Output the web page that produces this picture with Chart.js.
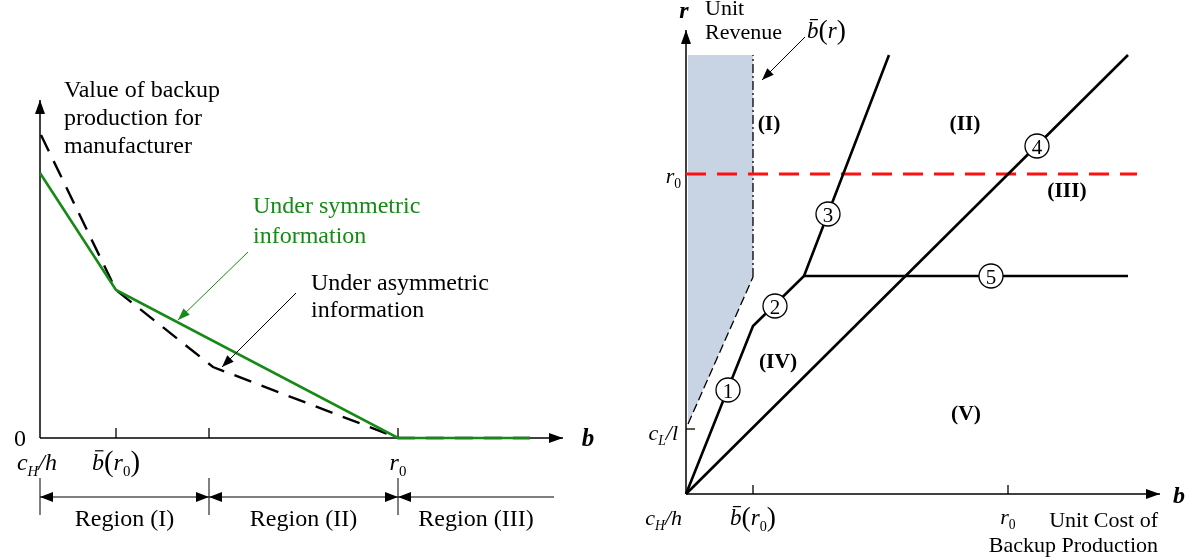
<!DOCTYPE html>
<html>
<head>
<meta charset="utf-8">
<script src="https://cdn.jsdelivr.net/npm/chart.js@4.4.1/dist/chart.umd.min.js"></script>
<style>
  html, body { margin: 0; padding: 0; background: #fff; }
  #wrap { position: relative; width: 1194px; height: 560px; }
  canvas { position: absolute; top: 0; }
  #left { left: 0; }
  #right { left: 600px; }
</style>
</head>
<body>
<div id="wrap">
  <canvas id="left" width="600" height="560"></canvas>
  <canvas id="right" width="594" height="560"></canvas>
</div>
<script>
// left panel: value of backup production vs b (schematic units)
const symX = [0, 7.6, 35.8, 49];
const symY = [26.5, 14.8, 0, 0];
const asymX = [0.1, 7.6, 17.3, 35.8, 49];
const asymY = [30.3, 14.8, 7.1, 0, 0];
const leftTicks = [7.6, 16.9, 35.8];
const regionBounds = [0, 16.9, 35.8, 51.4];
const regionLabels = ['Region (I)', 'Region (II)', 'Region (III)'];

// right panel: unit revenue r vs unit cost b
const curveX = [0, 6.7, 11.8, 20.3];
const curveY = [0, 16.8, 21.8, 43.9];
const diagX = [0, 44.2];
const diagY = [0, 43.9];
const flatX = [11.8, 44.2];
const flatY = [21.8, 21.8];
const r0Level = 32.0;
const r0LineX = [0, 45.1];
const bbarSlopeX = [0.2, 6.7];
const bbarSlopeY = [7.0, 21.7];
const bbarVertX = [6.7, 6.7];
const bbarVertY = [21.7, 43.9];
const shadeTop = 43.9;
const markerX = [4.2, 8.9, 14.2, 35.1, 30.5];
const markerY = [10.4, 18.8, 28.0, 34.8, 21.8];
const markerLabels = ['1', '2', '3', '4', '5'];
const rightTicksX = [6.7, 32.2];
const cLLevel = 6.5;

const SERIF = '"Liberation Serif", "Times New Roman", serif';
const font = (size, it, bold) => `${it ? 'italic ' : ''}${bold ? 'bold ' : ''}${size}px ${SERIF}`;
const pts = (xs, ys) => xs.map((x, i) => ({ x, y: ys[i] }));

function head(ctx, x1, y1, x2, y2, len, half) {
  const a = Math.atan2(y2 - y1, x2 - x1);
  ctx.beginPath();
  ctx.moveTo(x2, y2);
  ctx.lineTo(x2 - len * Math.cos(a) + half * Math.sin(a), y2 - len * Math.sin(a) - half * Math.cos(a));
  ctx.lineTo(x2 - len * Math.cos(a) - half * Math.sin(a), y2 - len * Math.sin(a) + half * Math.cos(a));
  ctx.closePath();
  ctx.fill();
}

function arrow(ctx, x1, y1, x2, y2, { color = '#000', width = 1, len = 12, half = 4.5, both = false } = {}) {
  ctx.strokeStyle = color;
  ctx.fillStyle = color;
  ctx.lineWidth = width;
  ctx.setLineDash([]);
  ctx.beginPath();
  ctx.moveTo(x1, y1);
  ctx.lineTo(x2, y2);
  ctx.stroke();
  head(ctx, x1, y1, x2, y2, len, half);
  if (both) head(ctx, x2, y2, x1, y1, len, half);
}

function line(ctx, x1, y1, x2, y2, width = 1.5) {
  ctx.strokeStyle = '#000';
  ctx.lineWidth = width;
  ctx.setLineDash([]);
  ctx.beginPath();
  ctx.moveTo(x1, y1);
  ctx.lineTo(x2, y2);
  ctx.stroke();
}

function text(ctx, str, x, y, { size = 22, align = 'left', color = '#000', it = false, bold = false } = {}) {
  ctx.font = font(size, it, bold);
  ctx.fillStyle = color;
  ctx.textAlign = align;
  ctx.textBaseline = 'alphabetic';
  ctx.fillText(str, x, y);
}

// small math labels: italic letters, subscripts, overbar
function math(ctx, parts, x, y, align = 'center', size = 22) {
  const runs = parts.map((p) => {
    const s = p.sub ? size * 0.62 : size * (p.scale || 1);
    ctx.font = font(s, p.it, p.b);
    return { ...p, s, w: ctx.measureText(p.t).width };
  });
  const total = runs.reduce((a, r) => a + r.w, 0);
  let cx = align === 'center' ? x - total / 2 : align === 'right' ? x - total : x;
  ctx.fillStyle = '#000';
  ctx.textAlign = 'left';
  ctx.textBaseline = 'alphabetic';
  runs.forEach((r) => {
    ctx.font = font(r.s, r.it, r.b);
    ctx.fillText(r.t, cx, y + (r.sub ? size * 0.24 : r.scale ? size * 0.04 : 0));
    if (r.bar) line(ctx, cx + r.w * 0.25, y - size * 0.8, cx + r.w * 0.95, y - size * 0.8, 1.2);
    cx += r.w;
  });
}

const cH = [{ t: 'c', it: true }, { t: 'H', it: true, sub: true }, { t: '/h', it: true }];
const cL = [{ t: 'c', it: true }, { t: 'L', it: true, sub: true }, { t: '/l', it: true }];
const r0 = [{ t: 'r', it: true }, { t: '0', sub: true }];
const bbarR0 = [{ t: 'b', it: true, bar: true }, { t: '(', scale: 1.2 }, ...r0, { t: ')', scale: 1.2 }];
const bbarR = [{ t: 'b', it: true, bar: true }, { t: '(', scale: 1.2 }, { t: 'r', it: true }, { t: ')', scale: 1.2 }];

const leftDecor = {
  id: 'leftDecor',
  beforeDatasetsDraw(chart) {
    const { ctx, scales: { x, y } } = chart;
    const X = (v) => x.getPixelForValue(v), Y = (v) => y.getPixelForValue(v);
    ctx.save();
    arrow(ctx, X(0), Y(0), X(0), Y(y.max), { width: 1.5, len: 14, half: 5 });
    arrow(ctx, X(0), Y(0), X(x.max), Y(0), { width: 1.5, len: 14, half: 5 });
    leftTicks.forEach((t) => line(ctx, X(t), Y(0), X(t), Y(0) - 10, 1.3));
    ctx.restore();
  },
  afterDatasetsDraw(chart) {
    const { ctx, scales: { x, y } } = chart;
    const X = (v) => x.getPixelForValue(v), Y = (v) => y.getPixelForValue(v);
    ctx.save();
    ['Value of backup', 'production for', 'manufacturer'].forEach((s, i) => text(ctx, s, X(2.4), Y(34.1 - i * 2.8), { size: 24 }));
    text(ctx, '0', X(-2.0), Y(-0.8), { size: 24, align: 'center' });
    math(ctx, cH, X(-0.3), Y(-3.2), 'center', 24);
    math(ctx, bbarR0, X(leftTicks[0]), Y(-3.2), 'center', 24);
    math(ctx, r0, X(leftTicks[2]), Y(-3.2), 'center', 24);
    text(ctx, 'b', X(54.8), Y(-0.8), { size: 25, align: 'center', it: true, bold: true });

    const green = '#168a16';
    text(ctx, 'Under symmetric', X(21.3), Y(22.5), { size: 24, color: green });
    text(ctx, 'information', X(21.3), Y(19.5), { size: 24, color: green });
    arrow(ctx, X(20.8), Y(18.6), X(13.8), Y(11.8), { color: green, width: 1 });
    text(ctx, 'Under asymmetric', X(27.1), Y(14.8), { size: 24 });
    text(ctx, 'information', X(27.1), Y(12.1), { size: 24 });
    arrow(ctx, X(25.6), Y(14.5), X(18.2), Y(7.1), { width: 1 });

    regionBounds.slice(0, 3).forEach((b) => line(ctx, X(b), Y(-4.0), X(b), Y(-7.7), 1));
    arrow(ctx, X(regionBounds[0]), Y(-5.9), X(regionBounds[1]), Y(-5.9), { width: 1.2, both: true, len: 13, half: 5 });
    arrow(ctx, X(regionBounds[1]), Y(-5.9), X(regionBounds[2]), Y(-5.9), { width: 1.2, both: true, len: 13, half: 5 });
    arrow(ctx, X(regionBounds[3]), Y(-5.9), X(regionBounds[2]), Y(-5.9), { width: 1.2, len: 13, half: 5 });
    regionLabels.forEach((s, i) => text(ctx, s, X((regionBounds[i] + regionBounds[i + 1]) / 2), Y(-8.8), { size: 24, align: 'center' }));
    ctx.restore();
  },
};

const rightDecor = {
  id: 'rightDecor',
  beforeDatasetsDraw(chart) {
    const { ctx, scales: { x, y } } = chart;
    const X = (v) => x.getPixelForValue(v), Y = (v) => y.getPixelForValue(v);
    ctx.save();
    arrow(ctx, X(0), Y(0), X(0), Y(y.max), { width: 1.5, len: 14, half: 5 });
    arrow(ctx, X(0), Y(0), X(x.max), Y(0), { width: 1.5, len: 14, half: 5 });
    rightTicksX.forEach((t) => line(ctx, X(t), Y(0), X(t), Y(0) - 9, 1.3));
    line(ctx, X(0), Y(cLLevel), X(0) + 9, Y(cLLevel), 1.3);
    ctx.restore();
  },
  afterDatasetsDraw(chart) {
    const { ctx, scales: { x, y } } = chart;
    const X = (v) => x.getPixelForValue(v), Y = (v) => y.getPixelForValue(v);
    ctx.save();
    chart.getDatasetMeta(0).data.forEach((p, i) => text(ctx, markerLabels[i], p.x, p.y + 7.5, { size: 21, align: 'center' }));

    text(ctx, 'r', X(-0.2), Y(47.6), { size: 24, align: 'center', it: true, bold: true });
    text(ctx, 'Unit', X(1.9), Y(47.9), { size: 22 });
    text(ctx, 'Revenue', X(1.9), Y(45.5), { size: 22 });
    math(ctx, bbarR, X(12.1), Y(45.6), 'left', 23);
    arrow(ctx, X(11.9), Y(45.7), X(7.6), Y(41.4), { width: 1 });

    [['(I)', 8.3, 36.4], ['(II)', 27.9, 36.4], ['(III)', 38.1, 29.7], ['(IV)', 9.2, 12.6], ['(V)', 28.0, 7.4]]
      .forEach(([s, px, py]) => text(ctx, s, X(px), Y(py), { size: 21.5, align: 'center', bold: true }));

    math(ctx, r0, X(-0.5), Y(r0Level - 0.9), 'right', 22);
    math(ctx, cL, X(-0.8), Y(5.4), 'right', 22);
    math(ctx, cH, X(-0.4), Y(-3.1), 'right', 22);
    math(ctx, bbarR0, X(rightTicksX[0]), Y(-3.1), 'center', 23);
    math(ctx, r0, X(rightTicksX[1]), Y(-3.0), 'center', 22);
    text(ctx, 'Unit Cost of', X(47.2), Y(-3.3), { size: 22, align: 'right' });
    text(ctx, 'Backup Production', X(47.2), Y(-5.8), { size: 22, align: 'right' });
    text(ctx, 'b', X(49.3), Y(-0.9), { size: 24, align: 'center', it: true, bold: true });
    ctx.restore();
  },
};

function baseOptions(xmax, ymax, padding) {
  return {
    responsive: false,
    animation: false,
    events: [],
    layout: { padding },
    elements: { line: { tension: 0 }, point: { radius: 0 } },
    plugins: { legend: { display: false }, tooltip: { enabled: false } },
    scales: {
      x: { type: 'linear', min: 0, max: xmax, display: false },
      y: { type: 'linear', min: 0, max: ymax, display: false },
    },
  };
}

new Chart(document.getElementById('left'), {
  type: 'line',
  data: {
    datasets: [
      { data: pts(symX, symY), borderColor: '#168a16', borderWidth: 2.6, clip: false },
      { data: pts(asymX, asymY), borderColor: '#000', borderWidth: 2.4, borderDash: [18, 11], clip: false },
    ],
  },
  options: baseOptions(52.3, 33.8, { left: 40, right: 37, top: 100, bottom: 122 }),
  plugins: [leftDecor],
});

new Chart(document.getElementById('right'), {
  type: 'line',
  data: {
    datasets: [
      {
        data: pts(markerX, markerY), showLine: false, pointRadius: 12,
        pointBackgroundColor: '#fff', pointBorderColor: '#000', pointBorderWidth: 1.3, clip: false,
      },
      { data: pts(curveX, curveY), borderColor: '#000', borderWidth: 2.6, clip: false },
      { data: pts(diagX, diagY), borderColor: '#000', borderWidth: 2.6, clip: false },
      { data: pts(flatX, flatY), borderColor: '#000', borderWidth: 2.6, clip: false },
      { data: pts(r0LineX, [r0Level, r0Level]), borderColor: '#ff1010', borderWidth: 2.8, borderDash: [20, 11], clip: false },
      { data: pts(bbarVertX, bbarVertY), borderColor: '#000', borderWidth: 1.3, borderDash: [9, 3, 2, 3], clip: false },
      { data: pts(bbarSlopeX, bbarSlopeY), borderColor: '#000', borderWidth: 1.3, borderDash: [9, 4], clip: false },
      {
        data: pts(bbarSlopeX, bbarSlopeY), borderWidth: 0, borderColor: 'rgba(0,0,0,0)',
        backgroundColor: '#c8d4e3', fill: { value: shadeTop },
      },
    ],
  },
  options: baseOptions(47.4, 46.4, { left: 86, right: 34, top: 30, bottom: 66 }),
  plugins: [rightDecor],
});
</script>
</body>
</html>
